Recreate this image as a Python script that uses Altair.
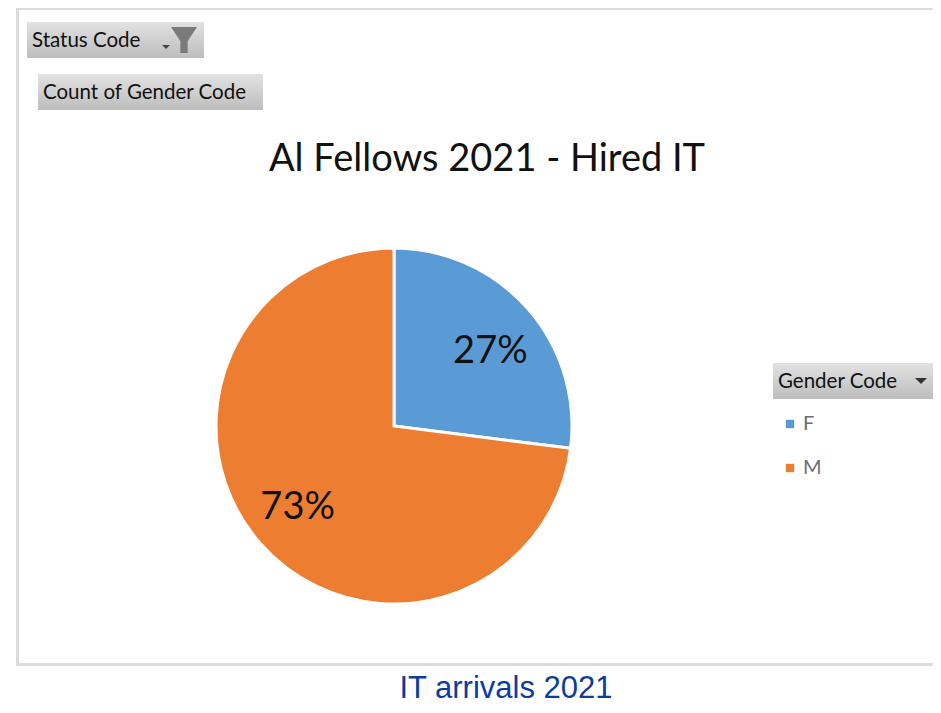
import altair as alt
import pandas as pd

genders = ["F", "M"]
shares = [27, 73]
labels = ["27%", "73%"]
colors = ["#5B9BD5", "#ED7D31"]

title = "Al Fellows 2021 - Hired IT"
caption = "IT arrivals 2021"
button_status = "Status Code"
button_count = "Count of Gender Code"
button_gender = "Gender Code"

W, H = 925, 697
OFF = 8  # page margin
CX, CY, R = 394 - OFF, 426 - OFF, 178

FUNNEL = "M-1,-1 L1,-1 L0.28,0.1 L0.28,1 L-0.28,1 L-0.28,0.1 Z"
CARET = "M-1,-0.5 L1,-0.5 L0,0.5 Z"

df = pd.DataFrame({"gender": genders, "share": shares, "label": labels})
one = pd.DataFrame({"a": [0]})


def grad():
    return alt.Gradient(
        gradient="linear", x1=0, x2=0, y1=0, y2=1,
        stops=[alt.GradientStop(offset=0, color="#E2E2E2"),
               alt.GradientStop(offset=1, color="#BDBDBD")],
    )


def box(x0, x1, y0, y1, **kw):
    mark = alt.Chart(one).mark_rect(**kw)
    return mark.encode(
        x=alt.value(x0 - OFF), x2=alt.value(x1 - OFF),
        y=alt.value(y0 - OFF), y2=alt.value(y1 - OFF),
    )


def text(s, x, y, size, font="Lato", color="#111111", align="left"):
    return alt.Chart(one).mark_text(
        text=s, font=font, fontSize=size, color=color, align=align, baseline="middle"
    ).encode(x=alt.value(x - OFF), y=alt.value(y - OFF))


def glyph(shape, x, y, size, color):
    return alt.Chart(one).mark_point(
        shape=shape, size=size, filled=True, color=color, opacity=1, strokeWidth=0
    ).encode(x=alt.value(x - OFF), y=alt.value(y - OFF))


frame = [
    box(16, 933, 8, 10, color="#DCDCDC"),
    box(16, 19, 8, 666, color="#DCDCDC"),
    box(16, 933, 663, 666, color="#DCDCDC"),
]

buttons = [
    box(27, 204, 22, 58, fill=grad()),
    text(button_status, 32, 41, 20.5),
    glyph(CARET, 166, 47, 64, "#444444"),
    glyph(FUNNEL, 184, 40, 676, "#7A7A7A"),
    box(38, 263, 74, 110, fill=grad()),
    text(button_count, 43, 93, 20.5),
    box(773, 933, 363, 399, fill=grad()),
    text(button_gender, 778, 382, 20.5),
    glyph(CARET, 921, 381, 144, "#333333"),
]

theta = alt.Theta(
    "share:Q", stack=True,
    scale=alt.Scale(domain=[0, 100], range=[0, 6.28318530718]),
)

pie = alt.Chart(df).mark_arc(
    stroke="white", strokeWidth=3, radius=R
).encode(
    x=alt.value(CX),
    y=alt.value(CY),
    theta=theta,
    order=alt.Order("gender:N"),
    color=alt.Color(
        "gender:N",
        scale=alt.Scale(domain=genders, range=colors),
        legend=alt.Legend(
            orient="none", legendX=780 - OFF, legendY=414 - OFF, title=None,
            symbolType="square", symbolSize=70, symbolStrokeWidth=0,
            labelFont="Lato", labelFontSize=20, labelColor="#6E6E6E",
            labelOffset=3, rowPadding=24,
        ),
    ),
)

pct = alt.Chart(df).mark_text(
    radius=124, thetaOffset=0.042, dy=4, font="Lato", fontSize=38, color="#111111",
    align="center", baseline="middle",
).encode(
    x=alt.value(CX),
    y=alt.value(CY),
    theta=theta,
    order=alt.Order("gender:N"),
    text="label:N",
)

chart = alt.layer(
    *frame,
    *buttons,
    pie,
    pct,
    text(title, 487, 160, 38, align="center"),
    text(caption, 506, 689, 31, font="Liberation Sans", color="#0B3C9F", align="center"),
).properties(
    width=W, height=H, padding=0, background="white",
    autosize=alt.AutoSizeParams(type="none"),
).configure_view(stroke=None)

chart.save("out.html", embed_options={"renderer": "svg", "actions": False})
